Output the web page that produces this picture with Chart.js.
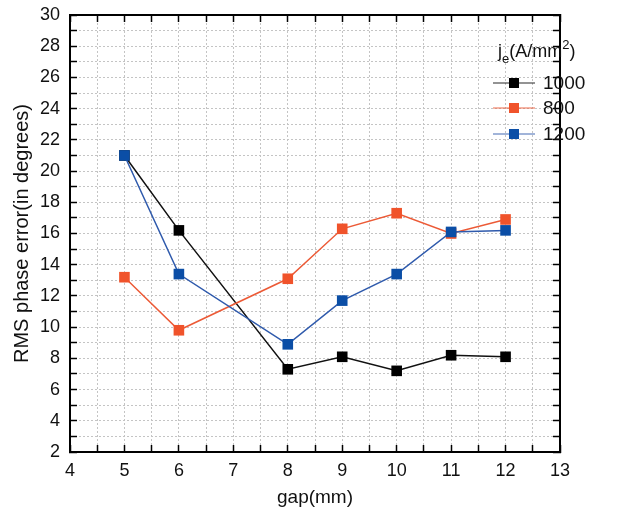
<!DOCTYPE html>
<html>
<head>
<meta charset="utf-8">
<script src="https://cdn.jsdelivr.net/npm/chart.js@4"></script>
</head>
<body style="margin:0">
<canvas id="myChart" width="634" height="516"></canvas>
<script>
const FONT = "'Liberation Sans', Arial, sans-serif";

// data
const gaps = [5, 6, 8, 9, 10, 11, 12];
const err1000 = [21.0, 16.2, 7.3, 8.1, 7.2, 8.2, 8.1];
const err800 = [13.2, 9.8, 13.1, 16.3, 17.3, 16.0, 16.9];
const err1200 = [21.0, 13.4, 8.9, 11.7, 13.4, 16.1, 16.2];
const seriesNames = ["1000", "800", "1200"];
const xTickLabels = [4, 5, 6, 7, 8, 9, 10, 11, 12, 13];
const yTickLabels = [2, 4, 6, 8, 10, 12, 14, 16, 18, 20, 22, 24, 26, 28, 30];

const lineColors = ["#111111", "#ec5a36", "#2f5aac"];
const markColors = ["#000000", "#f0532b", "#0b4ea6"];

function toPoints(xs, ys){ //pair x and y values for a linear x axis
    return xs.map((x, i) => ({x: x, y: ys[i]}));
}

function makeSet(i, ys, order){
    return {
        label: seriesNames[i],
        data: toPoints(gaps, ys),
        borderColor: lineColors[i],
        backgroundColor: markColors[i],
        borderWidth: 1.5,
        pointStyle: 'rect',
        pointRadius: 7.5,
        pointBorderWidth: 0,
        pointBackgroundColor: markColors[i],
        tension: 0,
        order: order
    };
}

function halfSteps(s){ // tick every 0.5 on x
    const t = [];
    for(let v = 4; v <= 13; v += 0.5) t.push({value: v});
    s.ticks = t;
}
function unitSteps(s){ // tick every 1 on y
    const t = [];
    for(let v = 2; v <= 30; v += 1) t.push({value: v});
    s.ticks = t;
}

const inwardTicks = { drawOnChartArea: false, drawTicks: true, tickLength: -7, tickColor: '#000', tickWidth: 1.5, tickBorderDash: [] };
const solidBorder = { display: true, color: '#000', width: 2 };

// titles, legend, frame fallback
const framePlugin = {
    id: 'frame',
    afterDraw(chart){
        const ctx = chart.ctx;
        const a = chart.chartArea;
        const L = Math.round(a.left), R = Math.round(a.right);
        const T = Math.round(a.top), B = Math.round(a.bottom);
        ctx.save();
        ctx.fillStyle = '#000';
        ctx.fillRect(L - 1, T - 1, R - L + 2, 2);
        ctx.fillRect(L - 1, B - 1, R - L + 2, 2);
        ctx.fillRect(L - 1, T - 1, 2, B - T + 2);
        ctx.fillRect(R - 1, T - 1, 2, B - T + 2);
        ctx.restore();

        ctx.save();
        ctx.fillStyle = '#111';
        ctx.font = "19px " + FONT;
        ctx.textAlign = 'center';
        ctx.textBaseline = 'middle';
        ctx.fillText('gap(mm)', (L + R) / 2, 498);
        ctx.translate(22, (T + B) / 2);
        ctx.rotate(-Math.PI / 2);
        ctx.font = "20px " + FONT;
        ctx.fillText('RMS phase error(in degrees)', 0, 0);
        ctx.restore();

        // legend
        ctx.save();
        ctx.fillStyle = '#111';
        ctx.textBaseline = 'alphabetic';
        ctx.textAlign = 'left';
        let x = 498;
        ctx.font = "18px " + FONT;
        ctx.fillText('j', x, 57); x += ctx.measureText('j').width;
        ctx.font = "13px " + FONT;
        ctx.fillText('e', x, 63); x += ctx.measureText('e').width;
        ctx.font = "18px " + FONT;
        ctx.fillText('(A/mm', x, 57); x += ctx.measureText('(A/mm').width;
        ctx.font = "13px " + FONT;
        ctx.fillText('2', x, 49); x += ctx.measureText('2').width;
        ctx.font = "18px " + FONT;
        ctx.fillText(')', x, 57);

        const rows = [83, 108, 134];
        for(let i = 0; i < 3; i++){
            const y = rows[i];
            ctx.globalAlpha = 0.6;
            ctx.fillStyle = lineColors[i];
            ctx.fillRect(493, y - 0.75, 42, 1.5);
            ctx.globalAlpha = 1;
            ctx.fillStyle = markColors[i];
            ctx.fillRect(509, y - 5, 10, 10);
            ctx.fillStyle = '#111';
            ctx.font = "19px " + FONT;
            ctx.textBaseline = 'middle';
            ctx.fillText(seriesNames[i], 543, y + 1);
        }
        ctx.restore();
    }
};

const CTX = document.getElementById('myChart').getContext('2d');
const CONFIG = {
    type: 'line',
    data: {
        datasets: [
            makeSet(0, err1000, 2),
            makeSet(1, err800, 1),
            makeSet(2, err1200, 0)
        ]
    },
    options: {
        responsive: false,
        animation: false,
        layout: { padding: { left: 0, right: 74, top: 15, bottom: 0 } },
        plugins: { legend: { display: false }, tooltip: { enabled: false } },
        scales: {
            x: {
                type: 'linear', position: 'bottom',
                min: 4, max: 13,
                afterFit(s){ s.height = 64; s.paddingLeft = 0; s.paddingRight = 0; },
                afterBuildTicks: halfSteps,
                ticks: {
                    autoSkip: false, maxRotation: 0, padding: 15,
                    color: '#111',
                    font: { family: FONT, size: 18 },
                    callback: v => xTickLabels.includes(v) ? String(v) : ''
                },
                grid: { color: '#c4c4c4', lineWidth: 1, drawTicks: true, tickLength: -7, tickColor: '#000', tickWidth: 1.5, tickBorderDash: [] },
                border: { display: true, color: '#000', width: 2, dash: [2, 2] }
            },
            x2: {
                type: 'linear', position: 'top',
                min: 4, max: 13,
                afterFit(s){ s.height = 0; s.paddingLeft = 0; s.paddingRight = 0; },
                afterBuildTicks: halfSteps,
                ticks: { display: false },
                grid: inwardTicks,
                border: solidBorder
            },
            y: {
                type: 'linear', position: 'left',
                min: 2, max: 30,
                afterFit(s){ s.width = 70; s.paddingTop = 0; s.paddingBottom = 0; },
                afterBuildTicks: unitSteps,
                ticks: {
                    autoSkip: false, padding: 17,
                    color: '#111',
                    font: { family: FONT, size: 18 },
                    callback: v => yTickLabels.includes(v) ? String(v) : ''
                },
                grid: { color: '#c4c4c4', lineWidth: 1, drawTicks: true, tickLength: -7, tickColor: '#000', tickWidth: 1.5, tickBorderDash: [] },
                border: { display: true, color: '#000', width: 2, dash: [2, 2] }
            },
            y2: {
                type: 'linear', position: 'right',
                min: 2, max: 30,
                afterFit(s){ s.width = 0; s.paddingTop = 0; s.paddingBottom = 0; },
                afterBuildTicks: unitSteps,
                ticks: { display: false },
                grid: inwardTicks,
                border: solidBorder
            }
        }
    },
    plugins: [framePlugin]
};

const myChart = new Chart(CTX, CONFIG);
</script>
</body>
</html>
